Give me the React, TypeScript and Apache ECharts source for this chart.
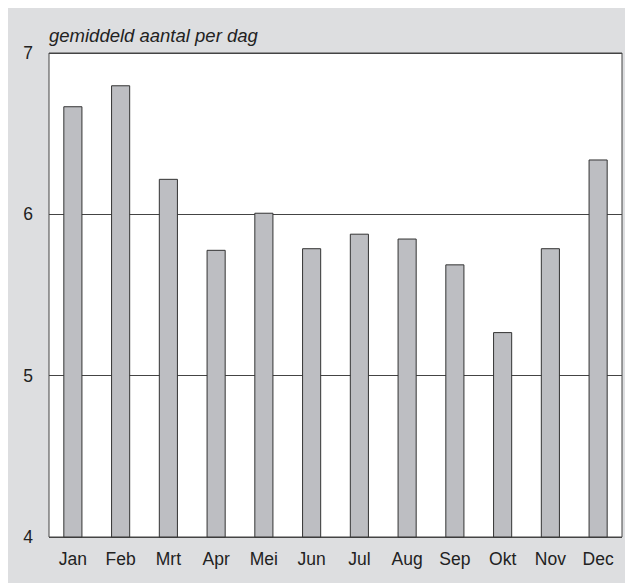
import React, { useEffect, useRef } from "react";
import * as echarts from "echarts";

const months = ["Jan", "Feb", "Mrt", "Apr", "Mei", "Jun", "Jul", "Aug", "Sep", "Okt", "Nov", "Dec"];
const values = [6.67, 6.8, 6.22, 5.78, 6.01, 5.79, 5.88, 5.85, 5.69, 5.27, 5.79, 6.34];
const yTicks = [4, 5, 6, 7];
const titleText = "gemiddeld aantal per dag";

export default function App() {
  const ref = useRef<HTMLDivElement>(null);
  useEffect(() => {
    if (!ref.current) return;
    const chart = echarts.init(ref.current, null, { renderer: "svg" });
    chart.setOption({
      animation: false,
      backgroundColor: "#dddee0",
      textStyle: { fontFamily: "Liberation Sans, Arial, sans-serif" },
      graphic: [
        {
          type: "text",
          left: 41,
          top: 18,
          style: {
            text: titleText,
            font: "italic 18.5px 'Liberation Sans', Arial, sans-serif",
            fill: "#222",
          },
        },
      ],
      grid: {
        left: 41,
        top: 45,
        right: 11,
        bottom: 46,
        show: true,
        backgroundColor: "#ffffff",
        borderColor: "#444",
        borderWidth: 1,
      },
      xAxis: {
        type: "category",
        data: months,
        axisLine: { show: false },
        axisTick: { show: false },
        axisLabel: { color: "#222", fontSize: 17.5, margin: 13, fontFamily: "Liberation Sans, Arial, sans-serif" },
      },
      yAxis: {
        type: "value",
        min: yTicks[0],
        max: yTicks[yTicks.length - 1],
        interval: 1,
        axisLine: { show: false },
        axisTick: { show: false },
        axisLabel: { color: "#222", fontSize: 17.5, margin: 16, fontFamily: "Liberation Sans, Arial, sans-serif" },
        splitLine: { show: true, lineStyle: { color: "#444", width: 1 } },
      },
      series: [
        {
          type: "bar",
          data: values,
          barWidth: "40%",
          itemStyle: { color: "#bdbec2", borderColor: "#333", borderWidth: 1 },
        },
      ],
    });
    return () => chart.dispose();
  }, []);
  return <div ref={ref} style={{ width: 625, height: 575 }} />;
}
